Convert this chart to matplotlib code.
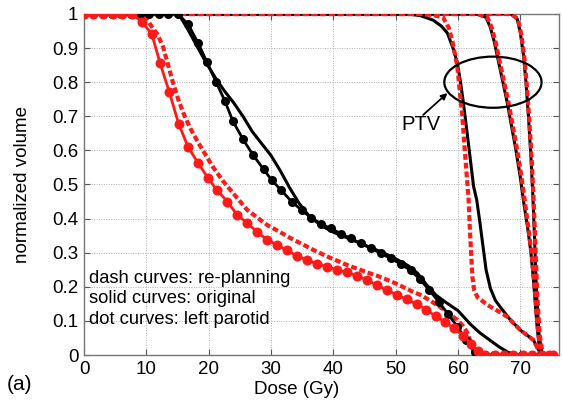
import matplotlib
matplotlib.use("Agg")
import matplotlib.pyplot as plt
from matplotlib.patches import Ellipse

plt.rcParams['font.family'] = ['Liberation Sans', 'DejaVu Sans']

# ---------------- data ----------------
# Left parotid, original plan (black, dot markers)
lp_orig_x = [0, 1.5, 3.0, 4.5, 6.0, 7.5, 9.0, 10.5, 12.0, 13.5, 15.1, 16.7, 18.3, 19.7,
             21.2, 22.6, 23.9, 25.5, 27.1, 28.8, 30.1, 31.6, 33.3, 34.9, 36.4, 38.0,
             39.6, 41.2, 42.8, 44.4, 46.0, 47.6, 49.2, 50.8, 52.4, 53.9, 55.4, 56.9,
             58.4, 59.9, 61.3, 62.8, 64.3, 65.8, 67.3, 68.8, 70.3, 71.8, 73.3]
lp_orig_y = [1, 1, 1, 1, 1, 1, 1, 1, 1, 1, 1.0, 0.97, 0.915, 0.86,
             0.80, 0.745, 0.685, 0.633, 0.587, 0.545, 0.513, 0.484, 0.45, 0.425, 0.403, 0.385,
             0.371, 0.356, 0.342, 0.327, 0.313, 0.298, 0.283, 0.267, 0.248, 0.222, 0.19, 0.156,
             0.12, 0.083, 0.044, 0.01, 0, 0, 0, 0, 0, 0, 0]

# Left parotid, re-planning (red, dot markers)
lp_repl_x = [0, 1.5, 3.1, 4.7, 6.1, 7.7, 9.3, 10.9, 12.2, 13.7, 15.2, 16.7, 18.3, 19.9,
             21.3, 23.0, 24.6, 26.2, 27.8, 29.4, 31.0, 32.6, 34.2, 35.8, 37.4, 39.0,
             40.6, 42.2, 43.8, 45.4, 47.0, 48.6, 50.2, 51.8, 53.4, 54.9, 56.4, 57.9,
             59.4, 60.8, 62.1, 63.2, 64.4, 65.9, 67.4, 68.9, 70.4, 71.9, 73.4, 74.6, 75.3]
lp_repl_y = [1, 1, 1, 1, 1, 1, 0.977, 0.94, 0.856, 0.77, 0.677, 0.61, 0.563, 0.519,
             0.484, 0.45, 0.41, 0.387, 0.36, 0.338, 0.322, 0.307, 0.29, 0.278, 0.268, 0.259,
             0.25, 0.242, 0.232, 0.22, 0.205, 0.19, 0.176, 0.163, 0.149, 0.133, 0.114, 0.097,
             0.078, 0.057, 0.033, 0.012, 0, 0, 0, 0, 0, 0, 0, 0, 0]

# Parotid, original (black solid)
par_orig_x = [0, 14.5, 15.5, 16.5, 18, 19.5, 21, 22.5, 24, 25.5, 27, 28.5, 30, 31.5, 33,
              34.5, 36, 38, 40, 42, 44, 46, 48, 50, 52, 53.5, 55, 56.5, 58, 60, 62, 63.5,
              65, 66.5, 68, 69.5]
par_orig_y = [1, 1, 0.99, 0.96, 0.91, 0.86, 0.815, 0.775, 0.74, 0.70, 0.655, 0.62, 0.585,
              0.54, 0.49, 0.445, 0.41, 0.38, 0.36, 0.345, 0.33, 0.315, 0.3, 0.282, 0.262,
              0.24, 0.205, 0.175, 0.155, 0.13, 0.09, 0.065, 0.045, 0.025, 0.008, 0]

# Parotid, re-planning (red dashed)
par_repl_x = [0, 9.5, 10.9, 11.8, 12.7, 13.5, 14.3, 15.2, 16.2, 17.2, 18.1, 19.4, 20.7,
              22.3, 23.9, 26.2, 29.4, 31.5, 33.1, 36.8, 39.5, 42.2, 45, 47.5, 50, 52.8,
              54, 55.5, 57.1, 58.5, 59.9, 60.8, 61.5, 62.0, 62.4, 63.0]
par_repl_y = [1, 1, 0.962, 0.94, 0.903, 0.85, 0.797, 0.745, 0.698, 0.66, 0.63, 0.59, 0.551,
              0.51, 0.475, 0.425, 0.381, 0.36, 0.343, 0.308, 0.285, 0.264, 0.245, 0.229,
              0.21, 0.185, 0.176, 0.16, 0.141, 0.122, 0.103, 0.085, 0.065, 0.04, 0.015, 0]

# PTV curves, original (black solid)
ptv1_orig_x = [0, 52, 54, 56, 57.3, 58.3, 59.2, 59.9, 60.4, 60.8, 61.2, 61.6, 62.0, 62.5,
               63.0, 63.5, 64.0, 64.5, 65.2, 66.0, 66.8, 68.4, 70.0, 72.1, 72.9, 73.5]
ptv1_orig_y = [1, 1, 0.995, 0.982, 0.965, 0.944, 0.9, 0.856, 0.8, 0.748, 0.69, 0.63, 0.57,
               0.494, 0.455, 0.39, 0.32, 0.25, 0.195, 0.16, 0.14, 0.103, 0.073, 0.044, 0.015, 0]
ptv2_orig_x = [0, 63, 64.5, 65.2, 65.8, 66.5, 67.2, 67.9, 68.6, 69.3, 70.0, 70.6, 71.2,
               71.7, 72.1, 72.4, 72.7, 73.0, 73.3]
ptv2_orig_y = [1, 1, 0.99, 0.96, 0.92, 0.86, 0.8, 0.74, 0.67, 0.6, 0.52, 0.44, 0.37,
               0.3, 0.22, 0.15, 0.08, 0.03, 0]
ptv3_orig_x = [0, 68.5, 69.5, 70.0, 70.5, 70.9, 71.3, 71.7, 72.0, 72.3, 72.6, 73.0, 73.5]
ptv3_orig_y = [1, 1, 0.985, 0.945, 0.88, 0.8, 0.7, 0.58, 0.47, 0.33, 0.18, 0.06, 0]

# PTV curves, re-planning (red dashed)
ptv1_repl_x = [0, 54, 56, 57.6, 58.5, 59.1, 59.9, 60.3, 60.7, 61.0, 61.3, 61.7, 61.9, 62.1,
               62.3, 62.6, 63.1, 64.7, 66.3, 67.9, 70.0, 72.1, 72.9, 73.3]
ptv1_repl_y = [1, 1, 0.997, 0.99, 0.96, 0.92, 0.845, 0.77, 0.698, 0.62, 0.55, 0.455, 0.37,
               0.3, 0.23, 0.19, 0.17, 0.147, 0.13, 0.112, 0.073, 0.044, 0.015, 0]
ptv2_repl_x = [0, 63.2, 64.7, 65.4, 66.0, 66.7, 67.4, 68.1, 68.8, 69.5, 70.2, 70.8, 71.3,
               71.8, 72.2, 72.5, 72.8, 73.1, 73.4]
ptv2_repl_y = [1, 1, 0.99, 0.96, 0.92, 0.86, 0.8, 0.74, 0.67, 0.6, 0.52, 0.44, 0.37,
               0.3, 0.22, 0.15, 0.08, 0.03, 0]
ptv3_repl_x = [0, 68.6, 69.6, 70.1, 70.6, 71.0, 71.4, 71.8, 72.1, 72.4, 72.7, 73.1, 73.6]
ptv3_repl_y = [1, 1, 0.985, 0.945, 0.88, 0.8, 0.7, 0.58, 0.47, 0.33, 0.18, 0.06, 0]

x_ticks = [0, 10, 20, 30, 40, 50, 60, 70]
y_ticks = [0, 0.1, 0.2, 0.3, 0.4, 0.5, 0.6, 0.7, 0.8, 0.9, 1]
y_tick_labels = ['0', '0.1', '0.2', '0.3', '0.4', '0.5', '0.6', '0.7', '0.8', '0.9', '1']

# ---------------- figure ----------------
fig = plt.figure(figsize=(5.63, 4.0), dpi=100)
ax = fig.add_axes([84/563, 45/400, 475/563, 341/400])

RED = '#ff1a1a'
dash = (0, (1.4, 0.7))

# PTV curves
for xs, ys in [(ptv1_orig_x, ptv1_orig_y), (ptv2_orig_x, ptv2_orig_y), (ptv3_orig_x, ptv3_orig_y)]:
    ax.plot(xs, ys, color='black', lw=2.2, zorder=3)
for xs, ys in [(ptv1_repl_x, ptv1_repl_y), (ptv2_repl_x, ptv2_repl_y), (ptv3_repl_x, ptv3_repl_y)]:
    ax.plot(xs, ys, color=RED, lw=3.0, linestyle=dash, zorder=4)

# Parotid curves
ax.plot(par_orig_x, par_orig_y, color='black', lw=2.2, zorder=3)
ax.plot(par_repl_x, par_repl_y, color=RED, lw=3.0, linestyle=dash, zorder=4)
ax.plot(lp_orig_x, lp_orig_y, color='black', lw=2.0, marker='o', markersize=6.5,
        markeredgewidth=0, zorder=5)
ax.plot(lp_repl_x, lp_repl_y, color=RED, lw=2.0, marker='o', markersize=7.2,
        markeredgewidth=0, zorder=6)

ax.set_xlim(0, 76.2)
ax.set_ylim(0, 1)
ax.set_xticks(x_ticks)
ax.set_xticklabels([str(v) for v in x_ticks])
ax.set_yticks(y_ticks)
ax.set_yticklabels(y_tick_labels)
ax.tick_params(direction='in', length=4, width=0.8, color='#555555', labelsize=13.5,
               top=True, right=True, pad=4)
for s in ax.spines.values():
    s.set_color('#777777')
    s.set_linewidth(1.0)
ax.grid(True, linestyle=(0, (1, 1.5)), color='#b0b0b0', linewidth=0.7)
ax.set_axisbelow(True)

ax.set_xlabel('Dose (Gy)', fontsize=13.5)
ax.xaxis.set_label_coords(0.448, -0.076)
ax.set_ylabel('normalized volume', fontsize=13.5)
ax.yaxis.set_label_coords(-0.112, 0.5)

# legend-like text
ax.text(0.8, 0.211, 'dash curves: re-planning', fontsize=13.2, va='baseline', ha='left', zorder=7)
ax.text(0.8, 0.152, 'solid curves: original', fontsize=13.2, va='baseline', ha='left', zorder=7)
ax.text(0.8, 0.090, 'dot curves: left parotid', fontsize=13.2, va='baseline', ha='left', zorder=7)

# PTV ellipse and arrow
ax.add_patch(Ellipse((65.6, 0.80), 15.6, 0.15, fill=False, edgecolor='black', lw=1.6, zorder=8))
ax.text(54.0, 0.675, 'PTV', fontsize=14.5, ha='center', va='center', zorder=8)
ax.annotate('', xy=(58.3, 0.768), xytext=(54.4, 0.704),
            arrowprops=dict(arrowstyle='-|>', color='black', lw=1.3,
                            mutation_scale=9, shrinkA=0, shrinkB=0), zorder=8)

fig.text(0.012, 0.04, '(a)', fontsize=15, va='center', ha='left')

fig.savefig('out.png', dpi=100)
